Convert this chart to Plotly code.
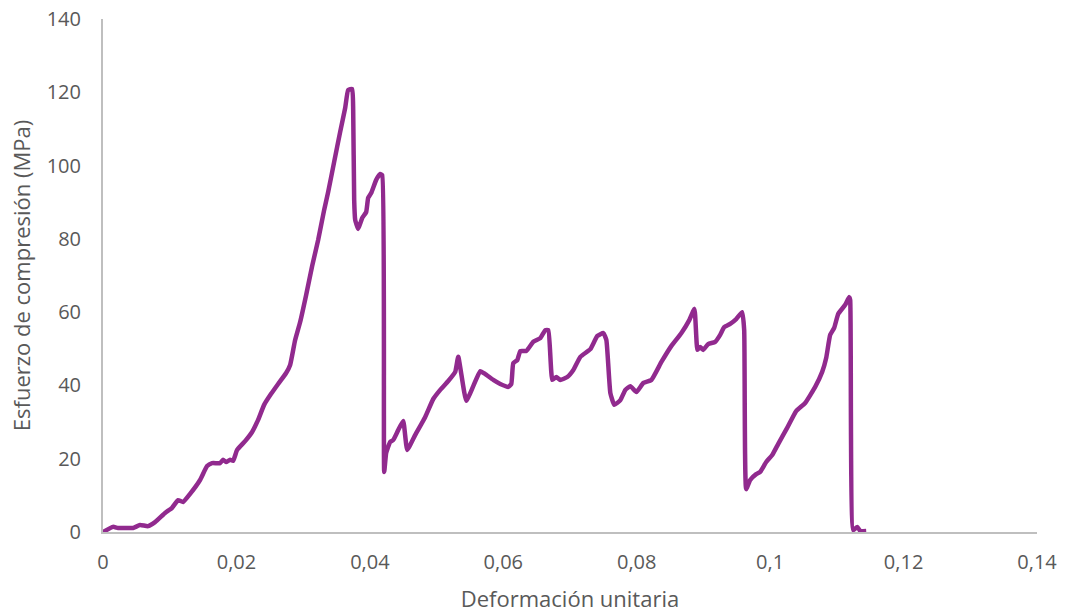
import plotly.graph_objects as go

strain = [0, 0.0015, 0.00225, 0.0033, 0.0045, 0.00555, 0.00675, 0.0078, 0.0093, 0.01035,
          0.01125, 0.012, 0.01305, 0.01455, 0.0156, 0.01635, 0.01755, 0.018, 0.01845, 0.01905,
          0.0195, 0.0201, 0.0213, 0.02235, 0.02325, 0.02415, 0.0252, 0.02625, 0.02745, 0.02805,
          0.0288, 0.02955, 0.03045, 0.03135, 0.03225, 0.03315, 0.03375, 0.03465, 0.03555, 0.0363,
          0.03675, 0.03735, 0.0375, 0.03765, 0.0378, 0.03825, 0.03885, 0.03945, 0.03975, 0.0402,
          0.04095, 0.04155, 0.04185, 0.04215, 0.04245, 0.04305, 0.0435, 0.04425, 0.045, 0.0456,
          0.0468, 0.0483, 0.0495, 0.05055, 0.05175, 0.0528, 0.05325, 0.05445, 0.0555, 0.05655,
          0.0573, 0.0585, 0.05955, 0.06075, 0.0612, 0.0615, 0.0621, 0.06255, 0.06345, 0.0645,
          0.06555, 0.0663, 0.06675, 0.06735, 0.06795, 0.06855, 0.0696, 0.0705, 0.07155, 0.07305,
          0.0741, 0.075, 0.07545, 0.07605, 0.07665, 0.07755, 0.0783, 0.07905, 0.07995, 0.081,
          0.0822, 0.0837, 0.0852, 0.0867, 0.0879, 0.08865, 0.0891, 0.08951, 0.08996, 0.09071,
          0.09176, 0.09251, 0.09311, 0.09401, 0.09491, 0.09581, 0.09611, 0.09641, 0.09701, 0.09791,
          0.09851, 0.09941, 0.10031, 0.1012, 0.10255, 0.1039, 0.10525, 0.10675, 0.1078, 0.1084,
          0.109, 0.1096, 0.1102, 0.11125, 0.11185, 0.112, 0.11245, 0.11305, 0.1135, 0.1144]

stress = [0, 1.4, 1.1, 1.1, 1.1, 1.9, 1.6, 2.7, 5.2, 6.6,
          8.7, 8.2, 10.4, 14.2, 18.0, 18.8, 18.8, 19.7, 19.1, 19.7,
          19.4, 22.4, 24.8, 27.3, 30.6, 34.7, 37.7, 40.4, 43.4, 45.6,
          52.4, 57.3, 64.7, 72.6, 79.7, 87.9, 92.8, 101.0, 109.2, 115.7,
          120.6, 120.9, 115.2, 90.6, 85.2, 82.7, 85.7, 87.3, 91.2, 92.5,
          96.1, 97.7, 97.4, 16.4, 21.6, 24.6, 25.1, 27.8, 30.3, 22.4,
          26.5, 31.4, 36.3, 38.8, 41.2, 43.7, 47.8, 35.8, 39.8, 43.9,
          43.1, 41.5, 40.4, 39.6, 40.4, 46.1, 46.9, 49.4, 49.4, 51.9,
          52.9, 55.1, 55.1, 41.5, 42.3, 41.5, 42.3, 44.2, 47.8, 49.9,
          53.5, 54.3, 52.4, 37.9, 34.7, 36.0, 38.8, 39.8, 38.2, 40.7,
          41.5, 46.4, 50.8, 54.3, 57.9, 60.9, 49.7, 50.5, 49.7, 51.3,
          51.9, 53.8, 55.9, 56.8, 58.1, 60.0, 55.1, 11.7, 14.2, 15.8,
          16.4, 19.1, 21.0, 24.0, 28.4, 33.0, 35.2, 39.6, 43.7, 47.5,
          53.8, 55.7, 59.5, 62.0, 64.1, 63.3, 0.5, 1.4, 0.3, 0.3]

x_ticks = [0, 0.02, 0.04, 0.06, 0.08, 0.1, 0.12, 0.14]
x_labels = ["0", "0,02", "0,04", "0,06", "0,08", "0,1", "0,12", "0,14"]
y_ticks = [0, 20, 40, 60, 80, 100, 120, 140]

fig = go.Figure()
fig.add_trace(go.Scatter(
    x=strain, y=stress, mode="lines",
    line=dict(color="#912A8E", width=4.5, shape="spline", smoothing=0.4),
    showlegend=False, hoverinfo="skip"))

font_family = "Open Sans, Noto Sans, sans-serif"
fig.update_layout(
    width=1066, height=613,
    paper_bgcolor="white", plot_bgcolor="white",
    margin=dict(l=103, r=29, t=19, b=81, autoexpand=False),
    font=dict(family=font_family, color="#595959", size=20),
    xaxis=dict(
        range=[0, 0.14], tickvals=x_ticks, ticktext=x_labels,
        showgrid=False, zeroline=False, showline=True,
        linecolor="#BFBFBF", linewidth=2, ticks="", automargin=False,
        ticklabelstandoff=11,
        title=dict(text="Deformación unitaria", font=dict(size=22, color="#595959"), standoff=20),
        tickfont=dict(size=20, color="#595959"),
    ),
    yaxis=dict(
        range=[0, 140], tickvals=y_ticks,
        showgrid=False, zeroline=False, showline=True,
        linecolor="#BFBFBF", linewidth=2, ticks="", automargin=False,
        ticklabelstandoff=16,
        title=dict(text="Esfuerzo de compresión (MPa)", font=dict(size=22, color="#595959"), standoff=10),
        tickfont=dict(size=20, color="#595959"),
    ),
)

fig.write_html(
    "out.html",
    config={"displayModeBar": False},
    post_script="document.body.style.margin='0';document.body.style.padding='0';",
)
